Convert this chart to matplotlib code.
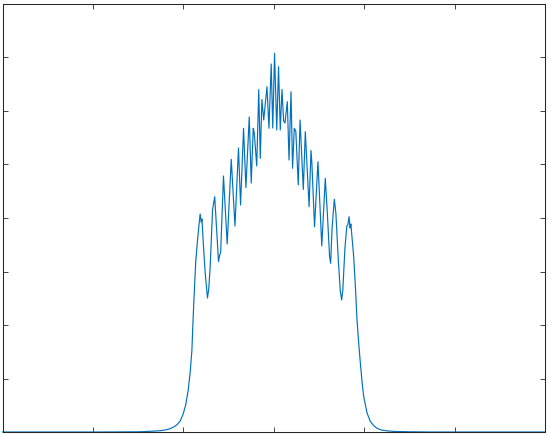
import matplotlib
matplotlib.use("Agg")
import matplotlib.pyplot as plt
import numpy as np

# ── DATA (axis units: x 0..6, y 0..8) ──────────────────────────────────
x_vals = [
    0.000, 1.080, 1.520, 1.633, 1.744, 1.810, 1.854, 1.899, 1.932, 1.965,
    1.998, 2.026, 2.054, 2.076, 2.095, 2.103, 2.117, 2.137, 2.157, 2.172,
    2.186, 2.198, 2.206, 2.223, 2.242, 2.267, 2.281, 2.297, 2.323, 2.347,
    2.364, 2.389, 2.402, 2.413, 2.444, 2.485, 2.530, 2.571, 2.610, 2.633,
    2.666, 2.692, 2.729, 2.751, 2.773, 2.784, 2.812, 2.834, 2.851, 2.869,
    2.889, 2.925, 2.947, 2.972, 2.989, 3.009, 3.033, 3.053, 3.072, 3.091,
    3.109, 3.124, 3.150, 3.169, 3.191, 3.208, 3.227, 3.244, 3.271, 3.291,
    3.327, 3.349, 3.391, 3.412, 3.421, 3.451, 3.489, 3.531, 3.570, 3.592,
    3.617, 3.629, 3.646, 3.670, 3.687, 3.714, 3.736, 3.751, 3.764, 3.786,
    3.808, 3.819, 3.833, 3.844, 3.853, 3.884, 3.902, 3.921, 3.941, 3.958,
    3.980, 3.996, 4.032, 4.068, 4.107, 4.143, 4.190, 4.253, 4.345, 4.511,
    4.733, 6.000,
]
y_vals = [
    0.000, 0.000, 0.004, 0.013, 0.024, 0.041, 0.062, 0.099, 0.140, 0.206,
    0.336, 0.505, 0.785, 1.121, 1.533, 1.907, 2.467, 3.178, 3.589, 3.850,
    4.075, 3.925, 3.981, 3.464, 2.972, 2.505, 2.673, 3.090, 4.150, 4.398,
    3.907, 3.183, 3.308, 3.364, 4.785, 3.514, 5.097, 3.850, 5.308, 4.243,
    5.677, 4.570, 5.888, 4.654, 5.677, 5.594, 4.972, 6.402, 5.116, 6.215,
    5.832, 6.454, 5.677, 6.879, 5.682, 7.079, 5.645, 6.828, 5.645, 6.402,
    5.813, 5.776, 6.174, 5.084, 6.361, 4.929, 5.677, 5.626, 4.617, 5.832,
    4.533, 5.613, 4.211, 5.262, 5.047, 3.837, 5.052, 3.477, 4.742, 4.112,
    3.290, 3.153, 3.837, 4.350, 4.093, 3.215, 2.636, 2.467, 2.654, 3.402,
    3.850, 3.869, 4.024, 3.813, 3.888, 3.277, 2.748, 2.093, 1.626, 1.284,
    0.879, 0.654, 0.355, 0.196, 0.116, 0.069, 0.037, 0.021, 0.009, 0.004,
    0.000, 0.000,
]

x_ticks = [1, 2, 3, 4, 5]
y_ticks = [1, 2, 3, 4, 5, 6, 7]

# ── FIGURE ───────────────────────────────────────────────────────
W, H = 548, 436
fig = plt.figure(figsize=(W / 100, H / 100), dpi=100)
ax = fig.add_axes([2.5 / W, 4 / H, 542.5 / W, 428 / H])

ax.plot(x_vals, y_vals, color='#0072BD', linewidth=0.85, clip_on=False)

ax.set_xlim(0, 6)
ax.set_ylim(0, 8)
ax.set_xticks(x_ticks)
ax.set_yticks(y_ticks)
ax.set_xticklabels([])
ax.set_yticklabels([])
ax.tick_params(direction='in', length=3.6, width=0.6, color='#262626',
               top=True, right=True)
for s in ax.spines.values():
    s.set_color('#262626')
    s.set_linewidth(0.75)

fig.savefig('out.png', dpi=100, facecolor='white')
